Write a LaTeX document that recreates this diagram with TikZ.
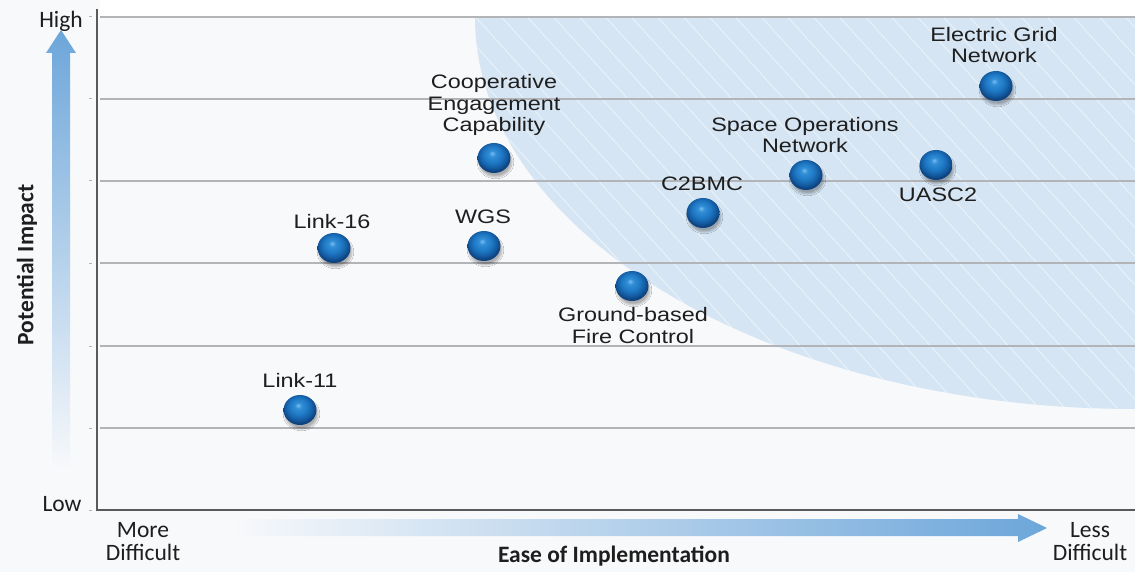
\documentclass[tikz,border=0pt]{standalone}
\usepackage{fontspec}
\newfontfamily\arialf{Liberation Sans}
\newfontfamily\calf{Carlito}
\usetikzlibrary{shadows.blur}
\definecolor{bg}{RGB}{248,249,251}
\definecolor{zone}{RGB}{213,229,243}
\definecolor{gridc}{RGB}{178,180,184}
\definecolor{axisc}{RGB}{90,90,92}
\definecolor{arrowc}{RGB}{108,166,218}
\definecolor{txt}{RGB}{30,30,30}
\definecolor{ballhi}{RGB}{120,190,240}
\definecolor{ballmid}{RGB}{50,142,215}
\definecolor{ballbase}{RGB}{30,120,196}
\definecolor{balldark}{RGB}{20,92,162}
\definecolor{balledge}{RGB}{14,66,126}
\pgfdeclareradialshading{bluebead}{\pgfpoint{-3bp}{8bp}}{%
  color(0bp)=(ballhi); color(5bp)=(ballmid); color(14bp)=(ballbase);
  color(21bp)=(balldark); color(26bp)=(balledge); color(50bp)=(balledge)}
\begin{document}
\begin{tikzpicture}[x=1pt,y=-1pt,
 lbl/.style={font=\arialf\fontsize{19.5}{21.5}\selectfont, text=txt, align=center, inner sep=0pt, xscale=1.2, anchor=base},
 axl/.style={font=\calf\fontsize{23.5}{23}\selectfont, text=txt, align=center, inner sep=0pt, anchor=base},
 axb/.style={axl, font=\calf\bfseries\fontsize{23.5}{23}\selectfont},
 bubble/.style={circle, minimum size=30pt, inner sep=0pt, xscale=1.1, shading=bluebead,
   blur shadow={shadow xshift=1.5pt, shadow yshift=-4pt, shadow opacity=30, shadow blur steps=8}},
 gridl/.style={draw=gridc, line width=1.4pt},
 axisl/.style={draw=axisc, line width=2.4pt},
 hatch/.style={draw=white, line width=0.9pt, opacity=0.5},
]
\useasboundingbox (0,0) rectangle (1135,572);
\fill[bg] (0,0) rectangle (1135,572);
\fill[white] (100,0) rectangle (1135,17);
% favourable zone
\begin{scope}
  \clip (100,17) rectangle (1135,510);
  \clip (1135,17) ellipse [x radius=660, y radius=392];
  \fill[zone] (100,17) rectangle (1135,510);
  \foreach \i in {0,...,50} \draw[hatch] (200+\i*26,0) -- ++(500,550);
\end{scope}
% grid
\coordinate (o) at (97,510);
\coordinate (ytop) at (97,9);
\coordinate (xend) at (1135,510);
\foreach \y in {17,99,181,263,346,428} {
  \draw[gridl] (100,\y) -- (1135,\y);
  \draw[draw=gridc, line width=1pt] (89,\y) -- (92,\y);
}
\draw[draw=gridc, line width=1pt] (89,510) -- (92,510);
\draw[axisl] (ytop) -- (o) -- (xend);
% arrows
\shade[bottom color=bg, top color=arrowc] (52,470) -- (52,53) -- (46,53) -- (61,30) -- (76,53) -- (70,53) -- (70,470) -- cycle;
\shade[left color=bg, right color=arrowc] (230,519) -- (1018,519) -- (1018,514) -- (1047,528) -- (1018,542) -- (1018,536) -- (230,536) -- cycle;
% bubbles
\node[bubble] (egn) at (996,86) {};
\node[bubble] (cec) at (494,158) {};
\node[bubble] (son) at (806,175) {};
\node[bubble] (uasc) at (936,165) {};
\node[bubble] (c2) at (703,213) {};
\node[bubble] (wgs) at (484,246) {};
\node[bubble] (l16) at (334,248) {};
\node[bubble] (gfc) at (632,286) {};
\node[bubble] (l11) at (300,410) {};
% labels (anchor base = baseline of last line)
\node[lbl] (egnt) at (994,63) {Electric Grid\\Network};
\node[lbl] (cect) at (494,132) {Cooperative\\Engagement\\Capability};
\node[lbl] (sont) at (805,153) {Space Operations\\Network};
\node[lbl] (uasct) at (938,202) {UASC2};
\node[lbl] (c2t) at (702,191) {C2BMC};
\node[lbl] (wgst) at (483,224) {WGS};
\node[lbl] (l16t) at (332,229) {Link-16};
\node[lbl] (gfct) at (633,343) {Ground-based\\Fire Control};
\node[lbl] (l11t) at (300,387) {Link-11};
% axis labels
\node[axl] (high) at (61,28) {High};
\node[axl] (low) at (62,511) {Low};
\node[axl] (more) at (143,560) {More\\Difficult};
\node[axl] (less) at (1090,560) {Less\\Difficult};
\node[axb] (ease) at (614,562) {Ease of Implementation};
\node[axb, rotate=90, anchor=center] (pot) at (27,265) {Potential Impact};
\end{tikzpicture}
\end{document}
